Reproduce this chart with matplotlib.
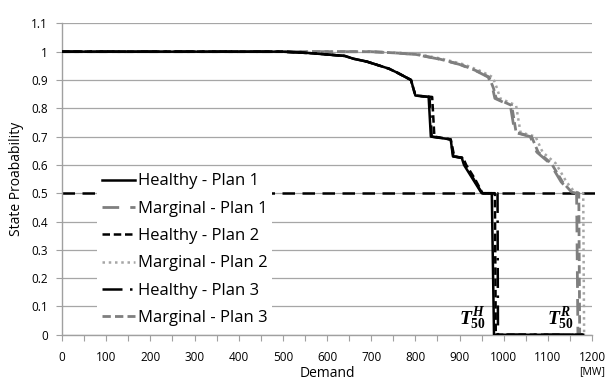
import numpy as np
import matplotlib.pyplot as plt

plt.rcParams['font.family'] = ['Open Sans', 'DejaVu Sans']
plt.rcParams['mathtext.fontset'] = 'custom'
plt.rcParams['mathtext.it'] = 'Liberation Serif:italic:bold'
plt.rcParams['mathtext.rm'] = 'Liberation Serif:bold'

# data (demand in MW, state probability)
h1_x = [0, 500, 560, 600, 640, 660, 690, 710, 740, 760, 790, 800, 830, 835, 880, 885, 905, 910, 930, 950, 973, 978, 1180]
h1_y = [1, 1, 0.995, 0.99, 0.985, 0.975, 0.965, 0.955, 0.94, 0.925, 0.90, 0.845, 0.84, 0.70, 0.69, 0.63, 0.625, 0.60, 0.55, 0.50, 0.50, 0, 0]

h2_x = [0, 500, 560, 600, 640, 660, 690, 710, 740, 760, 790, 800, 838, 843, 880, 888, 908, 915, 935, 952, 980, 982, 1180]
h2_y = [1, 1, 0.995, 0.99, 0.985, 0.975, 0.965, 0.955, 0.94, 0.925, 0.90, 0.845, 0.84, 0.70, 0.69, 0.63, 0.625, 0.60, 0.55, 0.50, 0.50, 0, 0]

h3_x = [0, 500, 560, 600, 640, 660, 690, 710, 740, 760, 790, 800, 832, 837, 880, 886, 906, 912, 932, 951, 986, 987, 1180]
h3_y = [1, 1, 0.995, 0.99, 0.985, 0.975, 0.965, 0.955, 0.94, 0.925, 0.90, 0.845, 0.84, 0.70, 0.69, 0.63, 0.625, 0.60, 0.55, 0.50, 0.50, 0, 0]

m1_x = [0, 700, 760, 800, 850, 900, 940, 965, 975, 980, 1015, 1025, 1060, 1075, 1105, 1130, 1150, 1165, 1168, 1180]
m1_y = [1, 1, 0.995, 0.99, 0.975, 0.955, 0.93, 0.91, 0.87, 0.835, 0.81, 0.715, 0.70, 0.645, 0.605, 0.54, 0.505, 0.50, 0, 0]

m2_x = [0, 700, 770, 810, 860, 910, 950, 975, 985, 992, 1028, 1038, 1072, 1088, 1118, 1142, 1160, 1180, 1182, 1185]
m2_y = [1, 1, 0.995, 0.99, 0.975, 0.955, 0.93, 0.91, 0.87, 0.835, 0.81, 0.715, 0.70, 0.645, 0.605, 0.54, 0.505, 0.50, 0, 0]

m3_x = [0, 700, 762, 802, 852, 902, 942, 967, 977, 983, 1018, 1028, 1063, 1078, 1108, 1133, 1153, 1170, 1172, 1180]
m3_y = [1, 1, 0.995, 0.99, 0.975, 0.955, 0.93, 0.91, 0.87, 0.835, 0.81, 0.715, 0.70, 0.645, 0.605, 0.54, 0.505, 0.50, 0, 0]

threshold = 0.5

fig = plt.figure(figsize=(6.11, 3.83), dpi=100)
ax = fig.add_axes([0.1015, 0.126, 0.8675, 0.813])

# 50% line
ax.plot([0, 1215], [threshold, threshold], color='black', lw=1.8,
        dashes=(5, 3), clip_on=False, zorder=1)

ax.plot(m1_x, m1_y, color='#7f7f7f', lw=2.0, dashes=(6, 4), label='Marginal - Plan 1', zorder=2)
ax.plot(m2_x, m2_y, color='#a6a6a6', lw=1.8, dashes=(1, 1.5), label='Marginal - Plan 2', zorder=2)
ax.plot(m3_x, m3_y, color='#7f7f7f', lw=2.0, dashes=(3, 1.5), label='Marginal - Plan 3', zorder=2)
ax.plot(h1_x, h1_y, color='black', lw=1.8, label='Healthy - Plan 1', zorder=3)
ax.plot(h2_x, h2_y, color='black', lw=1.8, dashes=(3, 1.5), label='Healthy - Plan 2', zorder=3)
ax.plot(h3_x, h3_y, color='black', lw=1.8, dashes=(8, 3, 1, 3), label='Healthy - Plan 3', zorder=3)

handles, labels = ax.get_legend_handles_labels()
order = ['Healthy - Plan 1', 'Marginal - Plan 1', 'Healthy - Plan 2',
         'Marginal - Plan 2', 'Healthy - Plan 3', 'Marginal - Plan 3']
hmap = dict(zip(labels, handles))
leg = ax.legend([hmap[k] for k in order], order, loc='lower left',
                bbox_to_anchor=(0.066, 0.012), frameon=True, fontsize=12,
                handlelength=2.0, handletextpad=0.15, labelspacing=0.68,
                borderpad=0.3, borderaxespad=0)
leg.get_frame().set_edgecolor('none')
leg.get_frame().set_facecolor('white')
leg.get_frame().set_alpha(1)
leg.set_zorder(5)

ax.set_xlim(0, 1200)
ax.set_ylim(0, 1.1)
ax.set_xticks(np.arange(0, 1201, 100))
ax.set_xticks(np.arange(0, 1201, 50), minor=True)
ax.set_yticks(np.round(np.arange(0, 1.11, 0.1), 1))
ax.set_yticklabels(['0', '0.1', '0.2', '0.3', '0.4', '0.5', '0.6', '0.7', '0.8', '0.9', '1', '1.1'])
ax.tick_params(axis='both', labelsize=8.5, colors='#a0a0a0', labelcolor='black', length=4, width=0.8)
ax.tick_params(axis='x', which='minor', colors='#a0a0a0', length=4, width=0.8)
ax.tick_params(axis='x', pad=8)
ax.tick_params(axis='y', pad=6)
ax.grid(axis='y', color='#a6a6a6', lw=0.9)
ax.set_axisbelow(True)
for s in ['top', 'right']:
    ax.spines[s].set_visible(False)
for s in ['left', 'bottom']:
    ax.spines[s].set_color('#a0a0a0')
    ax.spines[s].set_linewidth(1.0)

ax.set_ylabel('State Proabability', fontsize=10, labelpad=5)
ax.set_xlabel('Demand', fontsize=10, labelpad=1)
ax.text(1200, -0.132, '[MW]', fontsize=7.5, ha='center', va='center', clip_on=False)

ax.text(960, 0.055, r'$T^{H}_{50}$', fontsize=14, ha='right', va='center')
ax.text(1158, 0.055, r'$T^{R}_{50}$', fontsize=14, ha='right', va='center')

fig.savefig('out.png', dpi=100)
